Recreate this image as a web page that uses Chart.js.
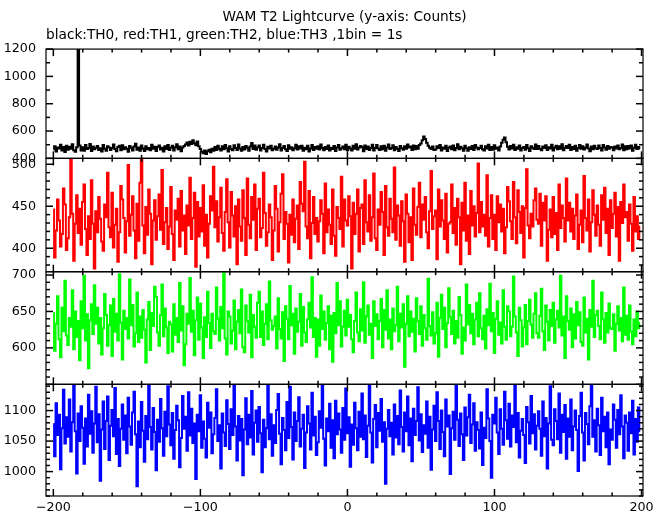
<!DOCTYPE html>
<html>
<head>
<meta charset="utf-8">
<script src="https://cdn.jsdelivr.net/npm/chart.js@4/dist/chart.umd.min.js"></script>
<style>
html,body{margin:0;padding:0;background:#fff;}
#wrap{width:669px;height:515px;position:relative;}
</style>
</head>
<body>
<div id="wrap"><canvas id="c" width="669" height="515"></canvas></div>
<script>
// ---- data (counts per 1 s bin) ----
const titleText = 'WAM T2 Lightcurve (y-axis: Counts)';
const subtitleText = 'black:TH0, red:TH1, green:TH2, blue:TH3 ,1bin = 1s';
const startTime = -200;   // time of first bin (s)
const binSize = 1;        // 1bin = 1s

const xTicks = [-200, -100, 0, 100, 200];
const th0Ticks = [400, 600, 800, 1000, 1200];
const th1Ticks = [400, 450, 500];
const th2Ticks = [600, 650, 700];
const th3Ticks = [1000, 1050, 1100];

const th0 = [
466,489,451,480,472,499,458,484,447,492,
463,485,471,503,460,448,481,1260,494,457,
482,455,498,469,476,505,453,487,466,478,
491,461,474,450,497,470,456,488,479,462,
475,501,468,452,484,493,459,496,467,481,
470,449,490,477,458,486,507,463,480,455,
495,472,454,489,466,476,460,500,471,485,
453,483,494,465,478,451,488,469,497,461,
477,492,458,481,504,467,486,452,479,490,
502,516,494,521,505,533,510,496,524,489,
468,449,438,457,432,452,463,445,471,456,
483,462,493,470,457,489,466,498,474,450,
488,469,459,496,476,461,502,473,455,484,
465,491,478,456,487,512,469,495,463,480,
494,458,475,499,468,451,485,472,492,460,
471,487,463,479,503,457,476,490,467,453,
496,470,482,459,474,500,464,488,472,493,
455,478,466,492,451,473,498,461,484,470,
489,464,501,475,460,483,469,494,457,478,
468,491,454,480,497,463,474,487,466,499,
460,485,473,457,493,471,504,465,479,490,
481,452,495,469,486,462,476,500,458,475,
498,473,461,488,467,492,455,480,502,468,
476,496,459,484,471,453,491,474,463,489,
470,501,479,486,462,494,467,490,471,497,
508,532,560,541,514,493,478,469,487,462,
464,489,475,497,458,480,470,492,454,477,
486,467,495,460,476,503,466,485,474,456,
492,474,455,482,469,490,461,498,479,466,
475,493,467,458,488,473,500,462,484,463,
496,471,479,457,487,514,536,552,518,485,
465,490,472,499,461,482,470,494,458,476,
483,463,497,474,454,489,477,468,501,469,
490,470,459,486,475,496,462,481,473,500,
457,478,493,467,488,471,503,460,477,491,
476,499,461,484,468,492,455,475,497,470,
489,464,478,501,472,452,486,467,493,474,
468,494,475,458,498,479,463,490,471,484,
480,460,487,473,495,466,476,502,459,488,
467,491,472,494,456,477,499,468,483,473
];

const th1 = [
446,389,421,458,433,402,417,471,452,398,
412,437,506,441,385,429,463,418,447,404,
455,476,423,392,438,411,481,429,376,444,
419,461,435,408,397,452,437,490,425,413,
466,401,428,447,384,419,474,458,436,395,
432,499,415,440,462,421,388,453,409,478,
507,427,394,449,416,470,441,381,433,457,
410,438,464,422,493,405,431,448,399,426,
473,417,386,445,434,459,402,468,421,439,
393,451,427,484,411,436,466,378,455,414,
448,420,475,403,440,389,429,462,445,497,
425,456,408,437,472,418,397,443,482,431,
401,467,439,414,450,381,458,426,409,469,
436,392,483,428,412,461,434,476,398,447,
459,413,424,490,442,403,419,452,437,386,
421,474,447,396,431,465,488,411,443,429,
383,440,416,458,407,435,451,399,479,453,
444,503,426,412,468,388,430,461,417,436,
408,432,457,441,394,477,419,446,428,405,
470,415,391,449,436,423,485,402,458,433,
427,462,438,376,454,417,441,470,396,448,
452,405,481,431,420,463,409,437,489,412,
398,446,428,467,443,392,474,425,415,459,
435,419,496,410,451,439,403,456,432,384,
464,441,407,437,386,471,428,416,449,478,
413,452,434,461,419,400,444,492,423,438,
445,387,470,426,457,433,411,465,395,429,
431,476,418,448,404,459,437,381,454,421,
478,409,439,393,468,427,450,414,442,501,
419,455,426,440,415,487,402,436,463,411,
440,398,462,431,452,420,447,394,425,473,
456,432,411,479,437,406,469,443,418,450,
389,448,494,427,412,441,426,457,471,434,
429,465,403,454,433,462,385,422,446,413,
461,417,442,398,476,424,451,436,408,483,
433,454,420,447,411,439,464,399,428,445,
407,486,436,421,458,396,431,469,440,415,
451,428,403,463,434,472,418,447,392,457,
424,441,466,414,449,385,455,430,476,437,
443,409,452,429,397,461,420,438,411,426
];

const th2 = [
648,596,633,671,612,587,655,623,692,617,
604,641,629,679,598,650,615,637,583,664,
627,699,610,646,572,638,660,619,686,633,
655,606,641,591,627,674,645,603,631,658,
589,667,622,647,610,701,635,584,651,626,
641,613,694,631,659,602,620,676,608,643,
614,652,625,580,639,663,597,648,630,684,
670,621,603,645,687,616,654,628,593,636,
632,595,660,618,641,608,689,624,657,576,
605,647,633,696,622,651,590,638,669,611,
661,628,586,642,615,677,634,600,647,623,
619,683,640,610,656,627,703,613,591,650,
643,606,624,665,598,636,652,620,680,601,
594,658,637,621,673,587,645,629,614,662,
677,615,650,604,633,660,612,691,638,625,
630,643,599,668,626,613,649,582,657,640,
612,685,631,647,592,654,622,636,674,603,
656,621,608,639,662,628,697,615,641,588,
639,603,672,626,650,611,634,657,598,644,
581,648,620,689,631,664,602,629,651,617,
666,629,645,612,594,637,676,621,609,653,
624,690,607,643,658,618,633,586,664,630,
646,612,637,667,601,652,625,679,613,639,
598,654,623,631,684,609,647,628,660,574,
633,671,616,650,622,640,595,668,637,619,
657,603,645,627,611,695,630,617,649,606,
620,662,588,641,673,626,655,601,634,682,
642,619,651,606,637,614,670,645,592,628,
610,687,632,659,620,647,605,639,662,616,
675,627,612,644,599,653,631,688,623,648,
593,640,664,618,635,606,679,629,611,657,
650,616,629,698,643,621,589,655,638,602,
628,659,605,637,666,632,614,647,675,620,
614,644,681,623,597,658,636,610,652,630,
662,607,639,651,628,699,617,643,586,671,
637,625,654,601,646,613,663,631,649,608,
603,669,621,640,584,652,629,692,615,645,
651,630,612,676,639,607,648,621,661,627,
626,646,596,633,657,624,641,609,683,618,
644,611,658,622,605,639,616,650,627,634
];

const th3 = [
1078,1025,1112,1060,1093,1004,1071,1134,1046,1089,
1057,1118,1033,1081,1142,1066,997,1095,1050,1107,
1072,1013,1087,1041,1126,1062,1099,1031,1079,1139,
1048,1094,985,1069,1115,1037,1083,1123,1019,1075,
1101,1058,1137,1029,1086,1009,1070,1110,1052,1092,
1030,1121,1074,1044,1097,1131,1061,976,1082,1040,
1114,1067,1016,1091,1053,1143,1073,1036,1104,1065,
1002,1085,1049,1119,1071,1026,1098,1058,1140,1077,
1043,1096,1021,1068,1108,1084,1007,1055,1124,1070,
1090,1034,1130,1059,1103,1047,1079,988,1093,1066,
1125,1039,1082,1054,1023,1113,1072,1097,1030,1061,
1088,1135,1050,1076,1005,1095,1064,1042,1117,1078,
1037,1102,1060,1141,1074,1018,1091,1051,1086,994,
1069,1120,1045,1093,1056,1132,1028,1080,1100,1049,
1106,1063,999,1085,1040,1071,1145,1053,1094,1026,
1076,1047,1101,1127,1062,1012,1088,1068,1035,1114,
1055,1139,1073,1020,1097,1050,1083,1122,1041,1070,
1093,1006,1064,1107,1079,1036,1129,1059,1090,1027,
1048,1099,1072,1144,1054,1010,1087,1066,1111,1039,
1084,1022,1116,1061,1095,1069,1031,1104,1052,1136,
1063,1089,1008,1077,1044,1113,1071,1035,1098,1057,
1128,1053,1092,1024,1075,1143,1064,1015,1086,1109,
1040,1096,1067,1119,1049,1081,980,1070,1101,1058,
1080,1028,1110,1056,1091,1045,1133,1073,1033,1097,
1066,1123,1043,1087,1017,1103,1060,1083,1138,1051,
1094,1032,1076,1062,1115,1039,1090,1003,1069,1108,
1050,1130,1083,1037,1100,1065,1025,1118,1074,1092,
996,1071,1098,1052,1141,1085,1042,1095,1061,1019,
1105,1059,1089,1126,1047,1077,1112,1034,1081,1068,
1038,1097,1011,1072,1055,1135,1087,1050,990,1093,
1079,1121,1064,1029,1102,1070,1044,1131,1084,1054,
1111,1041,1092,1073,1144,1048,1096,1023,1067,1086,
1060,1014,1106,1081,1046,1124,1063,1094,1036,1075,
1099,1070,1026,1115,1058,1088,1005,1079,1140,1052,
1043,1102,1083,1053,1128,1031,1093,1065,1109,1021,
1087,1057,1118,1035,1074,1100,1068,1001,1091,1129,
1064,1018,1096,1078,1045,1107,1142,1057,1084,1033,
1103,1076,1027,1121,1066,1090,1040,1097,1012,1069,
1052,1110,1085,1039,1101,1061,1125,1074,1022,1092,
1080,1034,1097,1063,1116,1028,1086,1049,1105,1066
];

// ---- chart construction ----
const times = th0.map((_, i) => startTime + i * binSize);
const toPts = arr => arr.map((v, i) => ({ x: times[i], y: v }));

const FONT = 'DejaVu Sans';
const tickFont = { family: FONT, size: 12.7 };

const panels = [
  { id: 'y0', data: th0, color: '#000000', ticks: th0Ticks, min: 400, max: 1200, minor: 100, major: 200, h: 109.3, w: 4 },
  { id: 'y1', data: th1, color: '#ff0000', ticks: th1Ticks, min: 372, max: 507, minor: 10, major: 50, h: 113.4, w: 3 },
  { id: 'y2', data: th2, color: '#00ff00', ticks: th2Ticks, min: 550, max: 704.5, minor: 10, major: 50, h: 112.6, w: 2 },
  { id: 'y3', data: th3, color: '#0000ff', ticks: th3Ticks, min: 960, max: 1143, minor: 10, major: 50, h: 111.7, w: 1 }
];

const scales = {
  x: {
    type: 'linear', position: 'bottom', min: -205, max: 201,
    afterBuildTicks: s => { s.ticks = xTicks.map(v => ({ value: v })); },
    afterFit: s => { s.height = 19; },
    grid: { display: false, drawTicks: false }, border: { display: false },
    ticks: {
      font: tickFont, color: '#000', padding: 4, maxRotation: 0, autoSkip: false,
      callback: v => String(v).replace('-', '\u2212')
    }
  }
};
panels.forEach(p => {
  scales[p.id] = {
    type: 'linear', position: 'left', stack: 'lc', stackWeight: p.h, weight: p.w,
    min: p.min, max: p.max,
    afterBuildTicks: s => { s.ticks = p.ticks.map(v => ({ value: v })); },
    afterFit: s => { s.width = 46; },
    grid: { display: false, drawTicks: false }, border: { display: false },
    ticks: { font: tickFont, color: '#000', padding: 10, autoSkip: false, callback: v => String(v) }
  };
});

const panelClip = {
  id: 'panelClip',
  beforeDatasetDraw(chart, args) {
    const ys = args.meta.yScale, ca = chart.chartArea, ctx = chart.ctx;
    ctx.save();
    ctx.beginPath();
    ctx.rect(ca.left, ys.top, ca.right - ca.left, ys.bottom - ys.top);
    ctx.clip();
  },
  afterDatasetDraw(chart) { chart.ctx.restore(); }
};

const frame = {
  id: 'frame',
  afterDatasetsDraw(chart) {
    const { ctx, chartArea: ca, scales: sc } = chart;
    const xs = sc.x;
    const line = (x1, y1, x2, y2) => { ctx.beginPath(); ctx.moveTo(x1, y1); ctx.lineTo(x2, y2); ctx.stroke(); };
    ctx.save();
    ctx.strokeStyle = '#000';
    panels.forEach(p => {
      const s = sc[p.id];
      const top = s.top, bot = s.bottom;
      ctx.lineWidth = 1.2;
      ctx.strokeRect(ca.left, top, ca.right - ca.left, bot - top);
      ctx.lineWidth = 1.5;
      const n0 = Math.ceil(p.min / p.minor), n1 = Math.floor(p.max / p.minor);
      for (let n = n0; n <= n1; n++) {
        const v = n * p.minor;
        const y = s.getPixelForValue(v);
        const len = (v % p.major === 0) ? 7 : 4;
        line(ca.left, y, ca.left + len, y);
        line(ca.right, y, ca.right - len, y);
      }
      for (let n = -10; n <= 10; n++) {
        const v = n * 20;
        const xp = xs.getPixelForValue(v);
        const len = (v % 100 === 0) ? 7 : 3.5;
        line(xp, top, xp, top + len);
        line(xp, bot, xp, bot - len);
      }
    });
    ctx.restore();
  }
};

new Chart(document.getElementById('c'), {
  type: 'line',
  data: {
    datasets: panels.map(p => ({
      label: p.id,
      data: toPts(p.data),
      yAxisID: p.id,
      borderColor: p.color,
      borderWidth: 2,
      pointRadius: 0,
      stepped: 'middle',
      fill: false
    }))
  },
  options: {
    responsive: false,
    animation: false,
    devicePixelRatio: 1,
    events: [],
    layout: { padding: { left: 0, right: 26, top: 0, bottom: 0 } },
    plugins: {
      legend: { display: false },
      tooltip: { enabled: false },
      title: {
        display: true, text: titleText, fullSize: false, align: 'center', color: '#000',
        font: { family: FONT, size: 13.7, weight: 'normal' }, padding: { top: 9, bottom: 2 }
      },
      subtitle: {
        display: true, text: subtitleText, fullSize: false, align: 'start', color: '#000',
        font: { family: FONT, size: 13.7, weight: 'normal' }, padding: { top: 0, bottom: 5.2 }
      }
    },
    scales: scales
  },
  plugins: [panelClip, frame]
});
</script>
</body>
</html>
